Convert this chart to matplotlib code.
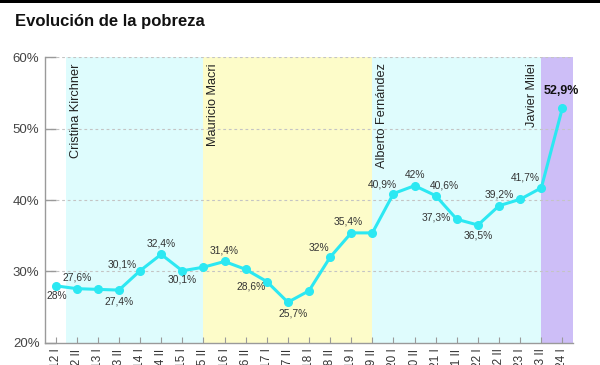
import matplotlib.pyplot as plt
from matplotlib.patches import Rectangle

plt.rcParams['font.family'] = ['Liberation Sans', 'DejaVu Sans']

# === datos ===
periodos = ["2012 I", "2012 II", "2013 I", "2013 II", "2014 I", "2014 II",
            "2015 I", "2015 II", "2016 I", "2016 II", "2017 I", "2017 II",
            "2018 I", "2018 II", "2019 I", "2019 II", "2020 I", "2020 II",
            "2021 I", "2021 II", "2022 I", "2022 II", "2023 I", "2023 II",
            "2024 I"]
pobreza = [28.0, 27.6, 27.5, 27.4, 30.1, 32.4, 30.1, 30.6, 31.4, 30.3,
           28.6, 25.7, 27.3, 32.0, 35.4, 35.4, 40.9, 42.0, 40.6, 37.3,
           36.5, 39.2, 40.1, 41.7, 52.9]
etiquetas = ["28%", "27,6%", None, "27,4%", "30,1%", "32,4%", "30,1%", None,
             "31,4%", None, "28,6%", "25,7%", None, "32%", "35,4%", None,
             "40,9%", "42%", "40,6%", "37,3%", "36,5%", "39,2%", None,
             "41,7%", "52,9%"]

presidentes = ["Cristina Kirchner", "Mauricio Macri", "Alberto Fernández", "Javier Milei"]
mandatos = [(0.5, 7), (7, 15), (15, 23), (23, 24.5)]
colores = ["#defcfd", "#fdfcc9", "#dffcfd", "#cdbef7"]
pos_nombre = [0.95, 7.47, 15.46, 22.55]

# desplazamiento de etiquetas (px)
offs = {0: (1, -10), 1: (0, 11), 3: (0, -11), 4: (-18, 6), 5: (0, 11),
        6: (0, -9), 8: (0, 11), 10: (-16, -5), 11: (5, -11), 13: (-11, 9),
        14: (-3, 11), 16: (-11, 9), 17: (0, 11), 18: (9, 10), 19: (-21, 2),
        20: (0, -10), 21: (0, 11), 23: (-16, 10), 24: (-1, 17)}

fig = plt.figure(figsize=(6, 3.65), dpi=100)
ax = fig.add_axes([0.075, 0.0603, 0.88, 0.7835])

x = list(range(len(periodos)))

for (a, b), c in zip(mandatos, colores):
    ax.axvspan(a, b, color=c, lw=0, zorder=0)

for yv in [30, 40, 50, 60]:
    ax.axhline(yv, color="#c4c4c4", lw=0.8, ls=(0, (2.5, 2.5)), zorder=1)

ax.plot(x, pobreza, color="#2ce8f2", lw=2.2, marker="o", ms=5.5, zorder=3)

for i, lab in enumerate(etiquetas):
    if lab is None:
        continue
    dx, dy = offs[i]
    bold = i == len(etiquetas) - 1
    ax.annotate(lab, (x[i], pobreza[i]), xytext=(dx, dy), textcoords="offset pixels",
                ha="center", va="center", fontsize=9 if bold else 7.4,
                fontweight="bold" if bold else "normal",
                color="#111111" if bold else "#333333", zorder=4)

for nom, px in zip(presidentes, pos_nombre):
    ax.text(px, 59.1, nom, rotation=90, ha="center", va="top", fontsize=9.2,
            color="#222222", zorder=4)

ax.set_xlim(-0.5, 24.5)
ax.set_ylim(20, 60)
ax.set_yticks([20, 30, 40, 50, 60])
ax.set_yticklabels(["20%", "30%", "40%", "50%", "60%"])
ax.set_xticks(x)
ax.set_xticklabels(periodos, rotation=90)

for s in ["top", "right"]:
    ax.spines[s].set_visible(False)
for s in ["left", "bottom"]:
    ax.spines[s].set_color("#9a9a9a")
    ax.spines[s].set_linewidth(1)

ax.tick_params(axis="y", direction="in", length=8, width=1, color="#9a9a9a",
               labelsize=9.5, labelcolor="#444444", pad=4)
ax.tick_params(axis="x", direction="in", length=4, width=0.8, color="#9a9a9a",
               labelsize=8.5, labelcolor="#333333", pad=4)

fig.text(0.025, 0.94, "Evolución de la pobreza", fontsize=12, fontweight="bold",
         ha="left", va="center", color="#111111")
fig.add_artist(Rectangle((0, 1 - 3 / 365), 1, 3 / 365, transform=fig.transFigure,
                         color="black", lw=0))

fig.savefig("out.png", dpi=100)
